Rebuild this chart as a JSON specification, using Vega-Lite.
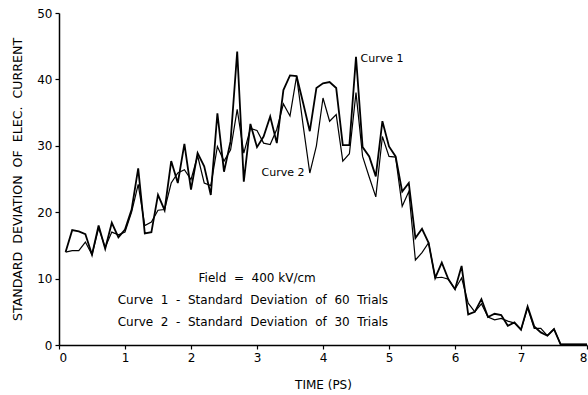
{
  "$schema": "https://vega.github.io/schema/vega-lite/v6.json",
  "width": 528,
  "height": 332,
  "autosize": {"type": "none"},
  "padding": {"left": 59, "top": 13, "right": 1, "bottom": 50},
  "background": "white",
  "config": {
    "view": {"stroke": null},
    "font": "DejaVu Sans",
    "axis": {
      "grid": false,
      "domainColor": "black",
      "tickColor": "black",
      "labelColor": "black",
      "titleColor": "black",
      "labelFont": "DejaVu Sans",
      "titleFont": "DejaVu Sans",
      "labelFontSize": 12,
      "titleFontSize": 12,
      "titleFontWeight": "normal",
      "domainWidth": 1.5,
      "tickWidth": 1.2,
      "tickSize": 4
    }
  },
  "datasets": {
    "curves": [
      {"t": 0.1, "curve": "Curve 1", "v": 14.0}, {"t": 0.1, "curve": "Curve 2", "v": 14.0},
      {"t": 0.2, "curve": "Curve 1", "v": 17.3}, {"t": 0.2, "curve": "Curve 2", "v": 14.2},
      {"t": 0.3, "curve": "Curve 1", "v": 17.1}, {"t": 0.3, "curve": "Curve 2", "v": 14.2},
      {"t": 0.4, "curve": "Curve 1", "v": 16.7}, {"t": 0.4, "curve": "Curve 2", "v": 15.5},
      {"t": 0.5, "curve": "Curve 1", "v": 13.6}, {"t": 0.5, "curve": "Curve 2", "v": 13.6},
      {"t": 0.6, "curve": "Curve 1", "v": 18.0}, {"t": 0.6, "curve": "Curve 2", "v": 17.6},
      {"t": 0.7, "curve": "Curve 1", "v": 14.5}, {"t": 0.7, "curve": "Curve 2", "v": 14.7},
      {"t": 0.8, "curve": "Curve 1", "v": 18.4}, {"t": 0.8, "curve": "Curve 2", "v": 17.0},
      {"t": 0.9, "curve": "Curve 1", "v": 16.2}, {"t": 0.9, "curve": "Curve 2", "v": 16.6},
      {"t": 1.0, "curve": "Curve 1", "v": 17.4}, {"t": 1.0, "curve": "Curve 2", "v": 17.0},
      {"t": 1.1, "curve": "Curve 1", "v": 20.4}, {"t": 1.1, "curve": "Curve 2", "v": 20.0},
      {"t": 1.2, "curve": "Curve 1", "v": 26.6}, {"t": 1.2, "curve": "Curve 2", "v": 24.2},
      {"t": 1.3, "curve": "Curve 1", "v": 16.8}, {"t": 1.3, "curve": "Curve 2", "v": 18.0},
      {"t": 1.4, "curve": "Curve 1", "v": 17.0}, {"t": 1.4, "curve": "Curve 2", "v": 18.5},
      {"t": 1.5, "curve": "Curve 1", "v": 22.6}, {"t": 1.5, "curve": "Curve 2", "v": 20.3},
      {"t": 1.6, "curve": "Curve 1", "v": 20.3}, {"t": 1.6, "curve": "Curve 2", "v": 20.4},
      {"t": 1.7, "curve": "Curve 1", "v": 27.7}, {"t": 1.7, "curve": "Curve 2", "v": 24.4},
      {"t": 1.8, "curve": "Curve 1", "v": 24.4}, {"t": 1.8, "curve": "Curve 2", "v": 25.9},
      {"t": 1.9, "curve": "Curve 1", "v": 30.3}, {"t": 1.9, "curve": "Curve 2", "v": 26.4},
      {"t": 2.0, "curve": "Curve 1", "v": 23.4}, {"t": 2.0, "curve": "Curve 2", "v": 24.9},
      {"t": 2.1, "curve": "Curve 1", "v": 28.9}, {"t": 2.1, "curve": "Curve 2", "v": 28.5},
      {"t": 2.2, "curve": "Curve 1", "v": 26.9}, {"t": 2.2, "curve": "Curve 2", "v": 24.4},
      {"t": 2.3, "curve": "Curve 1", "v": 22.6}, {"t": 2.3, "curve": "Curve 2", "v": 24.0},
      {"t": 2.4, "curve": "Curve 1", "v": 34.9}, {"t": 2.4, "curve": "Curve 2", "v": 29.9},
      {"t": 2.5, "curve": "Curve 1", "v": 26.1}, {"t": 2.5, "curve": "Curve 2", "v": 27.7},
      {"t": 2.6, "curve": "Curve 1", "v": 30.7}, {"t": 2.6, "curve": "Curve 2", "v": 29.4},
      {"t": 2.7, "curve": "Curve 1", "v": 44.2}, {"t": 2.7, "curve": "Curve 2", "v": 35.5},
      {"t": 2.8, "curve": "Curve 1", "v": 24.6}, {"t": 2.8, "curve": "Curve 2", "v": 28.9},
      {"t": 2.9, "curve": "Curve 1", "v": 33.3}, {"t": 2.9, "curve": "Curve 2", "v": 32.6},
      {"t": 3.0, "curve": "Curve 1", "v": 29.8}, {"t": 3.0, "curve": "Curve 2", "v": 32.3},
      {"t": 3.1, "curve": "Curve 1", "v": 31.4}, {"t": 3.1, "curve": "Curve 2", "v": 30.4},
      {"t": 3.2, "curve": "Curve 1", "v": 34.4}, {"t": 3.2, "curve": "Curve 2", "v": 30.2},
      {"t": 3.3, "curve": "Curve 1", "v": 30.4}, {"t": 3.3, "curve": "Curve 2", "v": 32.5},
      {"t": 3.4, "curve": "Curve 1", "v": 38.4}, {"t": 3.4, "curve": "Curve 2", "v": 36.3},
      {"t": 3.5, "curve": "Curve 1", "v": 40.6}, {"t": 3.5, "curve": "Curve 2", "v": 34.5},
      {"t": 3.6, "curve": "Curve 1", "v": 40.5}, {"t": 3.6, "curve": "Curve 2", "v": 40.5},
      {"t": 3.7, "curve": "Curve 1", "v": 36.4}, {"t": 3.7, "curve": "Curve 2", "v": 33.0},
      {"t": 3.8, "curve": "Curve 1", "v": 32.2}, {"t": 3.8, "curve": "Curve 2", "v": 25.9},
      {"t": 3.9, "curve": "Curve 1", "v": 38.7}, {"t": 3.9, "curve": "Curve 2", "v": 30.0},
      {"t": 4.0, "curve": "Curve 1", "v": 39.4}, {"t": 4.0, "curve": "Curve 2", "v": 37.2},
      {"t": 4.1, "curve": "Curve 1", "v": 39.6}, {"t": 4.1, "curve": "Curve 2", "v": 33.7},
      {"t": 4.2, "curve": "Curve 1", "v": 38.7}, {"t": 4.2, "curve": "Curve 2", "v": 34.7},
      {"t": 4.3, "curve": "Curve 1", "v": 30.1}, {"t": 4.3, "curve": "Curve 2", "v": 27.7},
      {"t": 4.4, "curve": "Curve 1", "v": 30.1}, {"t": 4.4, "curve": "Curve 2", "v": 28.8},
      {"t": 4.5, "curve": "Curve 1", "v": 43.4}, {"t": 4.5, "curve": "Curve 2", "v": 38.0},
      {"t": 4.6, "curve": "Curve 1", "v": 29.8}, {"t": 4.6, "curve": "Curve 2", "v": 28.4},
      {"t": 4.7, "curve": "Curve 1", "v": 28.4}, {"t": 4.7, "curve": "Curve 2", "v": 25.3},
      {"t": 4.8, "curve": "Curve 1", "v": 25.4}, {"t": 4.8, "curve": "Curve 2", "v": 22.3},
      {"t": 4.9, "curve": "Curve 1", "v": 33.7}, {"t": 4.9, "curve": "Curve 2", "v": 31.4},
      {"t": 5.0, "curve": "Curve 1", "v": 29.9}, {"t": 5.0, "curve": "Curve 2", "v": 28.4},
      {"t": 5.1, "curve": "Curve 1", "v": 28.4}, {"t": 5.1, "curve": "Curve 2", "v": 28.3},
      {"t": 5.2, "curve": "Curve 1", "v": 23.1}, {"t": 5.2, "curve": "Curve 2", "v": 20.9},
      {"t": 5.3, "curve": "Curve 1", "v": 24.4}, {"t": 5.3, "curve": "Curve 2", "v": 23.1},
      {"t": 5.4, "curve": "Curve 1", "v": 16.1}, {"t": 5.4, "curve": "Curve 2", "v": 12.8},
      {"t": 5.5, "curve": "Curve 1", "v": 17.5}, {"t": 5.5, "curve": "Curve 2", "v": 13.9},
      {"t": 5.6, "curve": "Curve 1", "v": 15.4}, {"t": 5.6, "curve": "Curve 2", "v": 15.4},
      {"t": 5.7, "curve": "Curve 1", "v": 10.1}, {"t": 5.7, "curve": "Curve 2", "v": 10.1},
      {"t": 5.8, "curve": "Curve 1", "v": 12.4}, {"t": 5.8, "curve": "Curve 2", "v": 10.2},
      {"t": 5.9, "curve": "Curve 1", "v": 9.9}, {"t": 5.9, "curve": "Curve 2", "v": 9.9},
      {"t": 6.0, "curve": "Curve 1", "v": 8.4}, {"t": 6.0, "curve": "Curve 2", "v": 8.4},
      {"t": 6.1, "curve": "Curve 1", "v": 11.9}, {"t": 6.1, "curve": "Curve 2", "v": 10.1},
      {"t": 6.2, "curve": "Curve 1", "v": 4.6}, {"t": 6.2, "curve": "Curve 2", "v": 6.3},
      {"t": 6.3, "curve": "Curve 1", "v": 5.0}, {"t": 6.3, "curve": "Curve 2", "v": 5.0},
      {"t": 6.4, "curve": "Curve 1", "v": 6.9}, {"t": 6.4, "curve": "Curve 2", "v": 6.2},
      {"t": 6.5, "curve": "Curve 1", "v": 4.2}, {"t": 6.5, "curve": "Curve 2", "v": 4.2},
      {"t": 6.6, "curve": "Curve 1", "v": 4.7}, {"t": 6.6, "curve": "Curve 2", "v": 3.8},
      {"t": 6.7, "curve": "Curve 1", "v": 4.5}, {"t": 6.7, "curve": "Curve 2", "v": 4.0},
      {"t": 6.8, "curve": "Curve 1", "v": 2.9}, {"t": 6.8, "curve": "Curve 2", "v": 3.6},
      {"t": 6.9, "curve": "Curve 1", "v": 3.4}, {"t": 6.9, "curve": "Curve 2", "v": 3.3},
      {"t": 7.0, "curve": "Curve 1", "v": 2.3}, {"t": 7.0, "curve": "Curve 2", "v": 2.3},
      {"t": 7.1, "curve": "Curve 1", "v": 5.8}, {"t": 7.1, "curve": "Curve 2", "v": 5.6},
      {"t": 7.2, "curve": "Curve 1", "v": 2.8}, {"t": 7.2, "curve": "Curve 2", "v": 2.5},
      {"t": 7.3, "curve": "Curve 1", "v": 1.9}, {"t": 7.3, "curve": "Curve 2", "v": 2.5},
      {"t": 7.4, "curve": "Curve 1", "v": 1.4}, {"t": 7.4, "curve": "Curve 2", "v": 1.4},
      {"t": 7.5, "curve": "Curve 1", "v": 2.4}, {"t": 7.5, "curve": "Curve 2", "v": 2.4},
      {"t": 7.6, "curve": "Curve 1", "v": 0.1}, {"t": 7.6, "curve": "Curve 2", "v": 0.1},
      {"t": 7.7, "curve": "Curve 1", "v": 0.1}, {"t": 7.7, "curve": "Curve 2", "v": 0.1},
      {"t": 7.8, "curve": "Curve 1", "v": 0.1}, {"t": 7.8, "curve": "Curve 2", "v": 0.1},
      {"t": 7.9, "curve": "Curve 1", "v": 0.1}, {"t": 7.9, "curve": "Curve 2", "v": 0.1},
      {"t": 8.0, "curve": "Curve 1", "v": 0.1}, {"t": 8.0, "curve": "Curve 2", "v": 0.1}
    ],
    "labels": [
      {"t": 4.57, "v": 43.1, "text": "Curve 1", "size": "small"},
      {"t": 3.07, "v": 25.9, "text": "Curve 2", "size": "small"},
      {"t": 2.115, "v": 10.1, "text": "Field\u00a0\u00a0=\u00a0\u00a0400\u00a0kV/cm", "size": "big"},
      {"t": 0.89, "v": 6.8, "text": "Curve\u00a0\u00a01\u00a0\u00a0-\u00a0\u00a0Standard\u00a0\u00a0Deviation\u00a0\u00a0of\u00a0\u00a060\u00a0\u00a0Trials", "size": "big"},
      {"t": 0.89, "v": 3.4, "text": "Curve\u00a0\u00a02\u00a0\u00a0-\u00a0\u00a0Standard\u00a0\u00a0Deviation\u00a0\u00a0of\u00a0\u00a030\u00a0\u00a0Trials", "size": "big"}
    ]
  },
  "layer": [
    {
      "data": {"name": "curves"},
      "mark": {"type": "line", "color": "black", "strokeJoin": "miter", "clip": false},
      "encoding": {
        "x": {
          "field": "t", "type": "quantitative",
          "scale": {"domain": [0, 8], "nice": false},
          "axis": {"values": [0, 1, 2, 3, 4, 5, 6, 7, 8], "title": "TIME (PS)", "titlePadding": 16, "labelPadding": 3, "format": "d"}
        },
        "y": {
          "field": "v", "type": "quantitative",
          "scale": {"domain": [0, 50], "nice": false},
          "axis": {"values": [0, 10, 20, 30, 40, 50], "title": "STANDARD\u00a0\u00a0DEVIATION\u00a0\u00a0OF\u00a0\u00a0ELEC.\u00a0\u00a0CURRENT", "titleFontSize": 12.6, "titlePadding": 12, "labelPadding": 3}
        },
        "detail": {"field": "curve"},
        "strokeWidth": {"field": "curve", "type": "nominal", "scale": {"domain": ["Curve 1", "Curve 2"], "range": [1.8, 1.2]}, "legend": null}
      }
    },
    {
      "data": {"name": "labels"},
      "mark": {"type": "text", "align": "left", "baseline": "middle", "font": "DejaVu Sans", "color": "black"},
      "encoding": {
        "x": {"field": "t", "type": "quantitative"},
        "y": {"field": "v", "type": "quantitative"},
        "text": {"field": "text"},
        "size": {"field": "size", "type": "nominal", "scale": {"domain": ["small", "big"], "range": [11, 12]}, "legend": null}
      }
    }
  ]
}
